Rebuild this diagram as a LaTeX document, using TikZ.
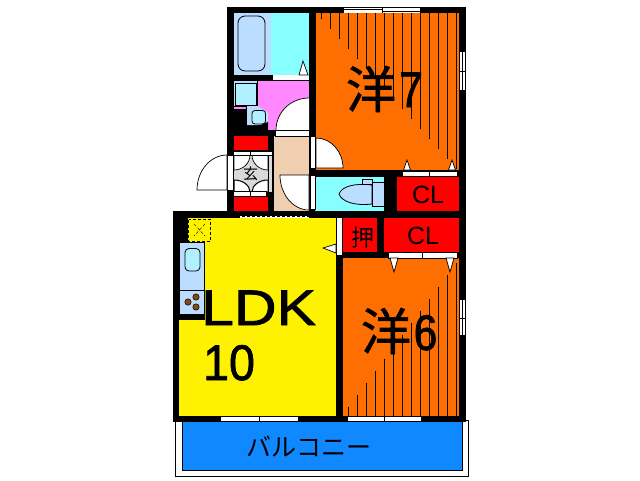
\documentclass[tikz,border=0pt]{standalone}
\usepackage{graphicx}
\usepackage{fontspec}
\setmainfont{Liberation Sans}
\newfontfamily\cjk{Noto Sans CJK JP}
\newfontfamily\cjkheavy[FakeBold=1.2]{Noto Sans CJK JP}
\newfontfamily\heavy[FakeBold=1.5]{Liberation Sans}
\usetikzlibrary{calc}
\definecolor{roomorange}{HTML}{FF6E00}
\definecolor{bathcyan}{HTML}{88FFFF}
\definecolor{fixblue}{HTML}{BBDDFF}
\definecolor{basincyan}{HTML}{B0F0FF}
\definecolor{pinkroom}{HTML}{FF88FF}
\definecolor{hallpeach}{HTML}{F0CFB0}
\definecolor{balcblue}{HTML}{1088FF}
\definecolor{burner}{HTML}{8B4513}
\tikzset{wall/.style={fill=black,draw=none},
	bar/.style={fill=white,draw=black,line width=.7pt},
	room/.style={draw=none},
	fixture/.style={draw=black,line width=.8pt},
	door/.style={fill=white,draw=black,line width=.7pt},
	stripe/.style={draw=black,line width=.9pt},
	label/.style={inner sep=0pt,text=black}}
\begin{document}
\begin{tikzpicture}[x=1pt,y=-1pt]
		\useasboundingbox[fill=white] (0,0) rectangle (640,480);
		% balcony
		\draw[fill=white,line width=.8pt] (175,420) rectangle (468,476.5);
		\draw[fill=balcblue,line width=.8pt] (182,420) rectangle (462,470);
		% walls
		\fill[wall] (227,7) rectangle (466,136);
		\fill[wall] (227,136) rectangle (310,218);
		\fill[wall] (310,136) rectangle (466,422);
		\fill[wall] (173,211) rectangle (466,422);
		% rooms
		\fill[room,fixblue] (234,13) rectangle (271,75);
		\fill[room,bathcyan] (271,13) rectangle (309,75);
		\fill[room,roomorange] (316,13) rectangle (459,170);
		\fill[room,roomorange] (343,258) rectangle (459,416);
		\fill[room,pinkroom] (258,81) rectangle (309,130);
		\fill[room,pinkroom] (234,107) rectangle (246,109);
		\fill[room,hallpeach] (274,136) rectangle (309,211);
		\fill[room,bathcyan] (315,177) rectangle (384,211);
		\fill[room,red] (397,177) rectangle (459,211);
		\fill[room,red] (384,218) rectangle (459,252);
		\fill[room,red] (343,218) rectangle (377,252);
		\fill[room,red] (234,136) rectangle (268,150);
		\fill[room,red] (234,197) rectangle (268,211);
		\fill[room,yellow] (188,218) rectangle (336,243);
		\fill[room,yellow] (179,243) rectangle (336,416);
		% stripes
		\foreach \i in {0,...,15} \draw[stripe] ({321.3+9*\i},13)--++(0,{6+10*\i});
		\foreach \i in {0,...,12} \draw[stripe] ({348+9*\i},416)--++(0,{-9-12*\i});
		% bath
		\draw[fixture,rounded corners=7pt] (238,16) rectangle (265,71);
		\draw[bar,draw=none] (273,75) rectangle (309,80);
		\draw[door] (299,75)--(303,61)--(308,75)--cycle;
		% wash room
		\fill[fixblue] (234,81) rectangle (257,106);
		\draw[fixture,fill=basincyan] (235.5,83) rectangle (256.5,105.5);
		\fill[black] (258,125) rectangle (268,131);
		\fill[fixblue] (247,106)--(258,106)--(268,113)--(268,121)--(258,125)--(247,125)--cycle;
		\draw[fixture,fill=basincyan,rounded corners=3pt] (252,110.5) rectangle (265.5,124);
		\fill[black] (258,126) -- (268,122) -- (268,131) -- (258,131) -- cycle;
		\fill[white] (309,98) arc[start angle=270,end angle=180,x radius=33,y radius=32]--(309,130)--cycle;
		\draw[door,fill=none] (309,98) arc[start angle=270,end angle=180,x radius=33,y radius=32];
		% hall doors
		\draw[bar] (275,130.5) rectangle (309,136);
		\draw[bar] (310,136) rectangle (315,168);
		\draw[bar] (310,175) rectangle (315,209);
		\draw[door] (316,168)--(316,138) arc[start angle=270,end angle=360,x radius=27,y radius=30]--cycle;
		\draw[door] (309,175)--(280,175) arc[start angle=180,end angle=90,x radius=29,y radius=35]--cycle;
		% entrance
		\fill[black!15] (234,155) rectangle (272,192);
		\draw[door] (234,155)--(250,155) arc[start angle=0,end angle=90,x radius=16,y radius=15]--cycle;
		\draw[door] (268,155)--(252,155) arc[start angle=180,end angle=90,x radius=16,y radius=15]--cycle;
		\draw[door,line width=1pt] (234,192)--(250,192) arc[start angle=0,end angle=-90,x radius=16,y radius=12]--cycle;
		\draw[door,line width=1pt] (268,192)--(252,192) arc[start angle=180,end angle=270,x radius=16,y radius=12]--cycle;
		\draw (268,155)--(268,192);
		\draw[bar] (233,151) rectangle (272,155.5);
		\draw[bar] (233,191.5) rectangle (266,196);
		\draw (250.5,151)--(250.5,155.5) (250.5,191.5)--(250.5,196);
		\draw[bar] (227.5,155) rectangle (233,190);
		\draw[door] (227,190)--(197,190) arc[start angle=180,end angle=270,x radius=30,y radius=35]--cycle;
		\fill[wall] (227,190) rectangle (234,197);
		\node[label,font=\cjk\fontsize{15}{15}\selectfont] (genkan) at (250.5,173.5) {玄};
		% wall bars
		\fill[white] (344,7.5) rectangle (420,12.5);
		\draw (344,9.5)--(382,9.5) (382,11)--(420,11) (382,7.5)--(382,12.5);
		\fill[white] (460,52) rectangle (465,90);
		\draw (462,52)--(462,90) (460,71)--(465,71);
		\fill[white] (460,300) rectangle (465,335);
		\draw (462,300)--(462,335) (460,318)--(465,318);
		\draw[bar] (402,171) rectangle (457,176);
		\draw (429,171)--(429,176);
		\draw[door] (403.5,170)--(407,160)--(410.5,170)--cycle;
		\draw[door] (448.5,170)--(452,160)--(455.5,170)--cycle;
		\draw[bar] (388,252.5) rectangle (457,258);
		\draw (422,252.5)--(422,258);
		\draw[door] (390,258)--(394,272)--(398,258)--cycle;
		\draw[door] (446,258)--(450,272)--(454,258)--cycle;
		\fill[white] (337,218) rectangle (342,255);
		\draw[door] (336,244)--(323,248)--(336,253)--cycle;
		\fill[white] (240,215.5) rectangle (309,218);
		\draw[densely dashed] (237,216.5)--(309,216.5);
		\draw[bar] (220,416.5) rectangle (298,421);
		\draw (259,416.5)--(259,421);
		\draw[bar] (347,416.5) rectangle (421,421);
		\draw (384,416.5)--(384,421);
		% toilet
		\draw[fixture,fill=fixblue] (339,194) .. controls (342,186) and (355,183) .. (372,185)--(372,204) .. controls (355,206) and (342,202) .. (339,194)--cycle;
		\fill[fixblue] (372,182) rectangle (384,206);
		\draw[fixture] (372,182)--(384,182) (372,206)--(384,206) (372,182)--(372,206);
		\draw[fixture,fill=fixblue] (362,179) rectangle (372,184);
		% kitchen
		\draw[fixture,densely dashed,fill=none] (188.5,219.5) rectangle (210.5,241);
		\draw[densely dashed] (194,224)--(205,236) (205,224)--(194,236);
		\draw[fixture,fill=fixblue] (179,242.5) rectangle (204.5,314);
		\fill[wall] (179,314) rectangle (205,320);
		\draw[fixture,fill=basincyan,rounded corners=4pt] (185,248.5) rectangle (200,271);
		\draw[fixture] (179,290)--(204.5,290);
		\fill[burner,draw=black,line width=.5pt] (188,302) circle (3.2) (196,297) circle (3.2) (196,307) circle (3.2);
		% labels
		\node[label,font=\cjkheavy\fontsize{50}{50}\selectfont] (western7) at (371,89) {洋};
		\node[label,font=\heavy\fontsize{50}{50}\selectfont,anchor=base west] (seven) at (399,107) {\scalebox{.85}[1]{7}};
		\node[label,font=\cjkheavy\fontsize{50}{50}\selectfont] (western6) at (386,331) {洋};
		\node[label,font=\heavy\fontsize{50}{50}\selectfont,anchor=base west] (six) at (413.5,350) {\scalebox{.85}[1]{6}};
		\node[label,font=\heavy\fontsize{50}{50}\selectfont,anchor=base west] (ldk) at (201,325) {\scalebox{1.18}[1]{LDK}};
		\node[label,font=\heavy\fontsize{50}{50}\selectfont,anchor=base west] (ten) at (203,380) {\scalebox{.93}[1]{10}};
		\node[label,font=\fontsize{25}{25}\selectfont,anchor=base] (closet1) at (428,203) {CL};
		\node[label,font=\fontsize{25}{25}\selectfont,anchor=base] (closet2) at (423,244) {CL};
		\node[label,font=\cjk\fontsize{23}{23}\selectfont] (oshiire) at (363,238) {押};
		\node[label,font=\cjk\fontsize{25}{25}\selectfont] (balcony) at (309,447) {バルコニー};
		\end{tikzpicture}
\end{document}
